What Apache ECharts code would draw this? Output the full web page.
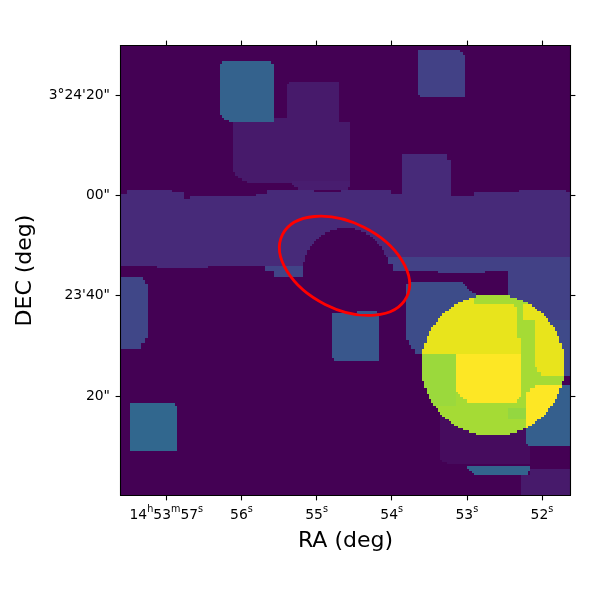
<!DOCTYPE html>
<html><head><meta charset="utf-8">
<style>html,body{margin:0;padding:0;background:#fff}#c{width:600px;height:600px}</style>
<script src="https://cdn.jsdelivr.net/npm/echarts@6/dist/echarts.min.js"></script>
</head><body><div id="c"></div>
<script>
// Image cells: [colStart, colEnd, rowStart, rowEnd, value], half-open, row 0 at the top, later ones on top.
var gridSize = 200;
var faintBlocks = [
  [50,102,34,56,.07],[51,102,56,58,.07],[52,102,58,59,.07],[54,102,59,60,.07],[56,102,60,61,.07],
  [68,74,32,34,.07],[75,97,16,17,.07],[74,97,17,37,.07],[97,100,37,38,.07],[97,102,38,60,.07],
  [76,102,60,62,.08],[77,102,62,63,.08],[79,101,63,64,.08]
];
var bandBlocks = [
  [0,3,66,98,.12],[3,16,64,98,.12],[16,23,64,99,.12],[23,28,65,99,.12],[28,31,68,99,.12],[31,39,67,99,.12],
  [39,60,67,98,.12],[60,65,66,98,.12],[65,86,64,98,.12],[86,98,65,98,.12],[98,120,64,94,.12],[120,125,66,94,.12],
  [125,145,48,94,.12],[145,147,51,94,.12],[147,157,67,94,.12],[157,177,65,94,.12],[177,198,64,94,.12],[198,200,65,94,.12]
];
var stripBlocks = [
  [64,81,98,100,.2],[68,81,100,103,.2],
  [119,200,94,97,.19],[121,200,97,100,.19],[141,162,100,101,.19]
];
var holeFirstRow = 81;
var holeCentreCol = 100;
var holeHalfWidths = [4,7,9,11,12,13,14,15,16,16,17,17,18,18,18,19,19,19,19,19,19,19,19];
var squareBlocks = [
  [45,67,7,8,.31],[44,68,8,31,.31],[45,68,31,32,.31],[46,68,32,33,.31],[48,68,33,34,.31],
  [132,151,2,3,.19],[132,152,3,4,.19],[132,153,4,22,.19],[133,153,22,23,.19],
  [0,10,103,104,.21],[0,11,104,106,.21],[0,12,106,130,.21],[0,11,130,132,.21],[0,9,132,135,.21],
  [4,24,159,160,.33],[4,25,160,180,.33],
  [105,114,118,119,.27],[94,115,119,139,.27],[95,115,139,140,.27]
];
var rightBlocks = [
  [128,152,105,106,.23],[127,153,106,107,.23],[127,154,107,108,.23],[127,155,108,109,.23],[127,156,109,110,.23],
  [127,158,110,111,.23],[127,160,111,131,.23],[128,160,131,133,.23],[129,160,133,135,.23],[131,160,135,137,.23],
  [172,200,100,122,.19],[190,200,122,147,.22],
  [142,182,160,184,.03],[143,182,184,185,.03],[145,182,185,186,.03],
  [180,200,151,177,.3],[181,200,177,178,.3],
  [154,182,187,188,.32],[155,182,188,189,.32],[156,181,189,190,.32],[157,181,190,191,.32],
  [182,200,188,200,.07],[178,200,191,200,.07]
];
// Bright disc: half-widths of its rows going outward from the centre, and what lies inside it.
var discCentreRow = 142;
var discCentreCols = [165,166];
var discHalfWidths = [31,31,31,31,31,31,31,30,30,30,29,29,29,28,28,27,27,26,25,24,24,23,22,21,19,18,17,15,13,10,7];
var discBlocks = [
  [134,197,111,173,.865],[134,149,137,160,.85],
  [134,157,111,137,.965],[157,175,115,116,.965],[157,176,116,130,.965],[157,178,130,137,.965],
  [149,178,137,154,1],[150,178,154,155,1],[151,178,155,156,1],[152,177,156,157,1],[154,176,157,159,1],
  [179,197,115,122,.965],[184,197,122,143,.965],[185,197,143,145,.965],[187,197,145,147,.965],
  [184,197,151,152,1],[182,197,152,154,1],[180,197,154,173,1],
  [172,180,161,166,.84]
];
// Axes
var raRange = [51.62,57.61];
var decRange = [0.17,89.87];
var raTicks = [57,56,55,54,53,52];
var raLabels = ['14h53m57s','56s','55s','54s','53s','52s'];
var decTicks = [80,60,40,20];
var decLabels = ['3°24\'20"','00"','23\'40"','20"'];
var viridis = ['#440154','#471365','#482475','#463480','#414487','#3b528b','#355f8d','#2f6c8e','#2a788e','#25848e','#21918c',
               '#1e9c89','#22a884','#2fb47c','#44bf70','#5ec962','#7ad151','#9bd93c','#bddf26','#dfe318','#fde725'];
// Aperture: RA s, Dec offset ", semi-major ", semi-minor ", tilt degrees
var aperture = [[54.628,45.95,13.85,8.6,26.7]];

var cells = [];
for (var r=0;r<gridSize;r++){cells.push(new Array(gridSize).fill(0));}
function paint(list){
  list.forEach(function(b){
    for(var r=b[2];r<b[3];r++)for(var c=b[0];c<b[1];c++)cells[r][c]=b[4];
  });
}
paint(faintBlocks);paint(bandBlocks);paint(stripBlocks);
holeHalfWidths.forEach(function(h,i){
  for(var c=holeCentreCol-h;c<holeCentreCol+h;c++)cells[holeFirstRow+i][c]=0;
});
paint(squareBlocks);paint(rightBlocks);
var discCells=[];
for(var r2=0;r2<gridSize;r2++){discCells.push(new Array(gridSize).fill(0));}
discBlocks.forEach(function(b){
  for(var r=b[2];r<b[3];r++)for(var c=b[0];c<b[1];c++)discCells[r][c]=b[4];
});
discHalfWidths.forEach(function(h,k){
  [discCentreRow+k,discCentreRow-1-k].forEach(function(r){
    for(var c=discCentreCols[0]-h;c<discCentreCols[1]+h;c++)cells[r][c]=discCells[r][c];
  });
});
// One drawn item per run of equal cells in a row: [colStart, row, colEnd, value]
var runs=[];
for(var y=0;y<gridSize;y++){
  var start=0;
  for(var x=1;x<=gridSize;x++){
    if(x===gridSize||cells[y][x]!==cells[y][start]){runs.push([start,y,x,cells[y][start]]);start=x;}
  }
}
var idx=[];for(var i=0;i<gridSize;i++)idx.push(i);

var font='DejaVu Sans';
function richRa(v){
  var s=raLabels[raTicks.indexOf(v)]||'';
  return s.replace(/(\d+)([hms])/g,'{n|$1}{u|$2}');
}
var rich={n:{fontFamily:font,fontSize:13.9,color:'#000',lineHeight:18,verticalAlign:'bottom'},
          u:{fontFamily:font,fontSize:9.7,color:'#000',lineHeight:18,verticalAlign:'top',padding:[0,0,6,0]}};
var line={show:true,onZero:false,lineStyle:{color:'#000',width:1.1}};
var tick={show:true,length:4.9,inside:false,lineStyle:{color:'#000',width:1.1}};
function xVal(pos,labelled,name){
  return {type:'value',gridIndex:0,position:pos,inverse:true,min:raRange[0],max:raRange[1],z:5,
    axisLine:line,splitLine:{show:false},
    axisTick:Object.assign({},tick,{customValues:raTicks}),
    axisLabel:labelled?{show:true,customValues:raTicks,margin:9,formatter:richRa,rich:rich,hideOverlap:false}:{show:false},
    name:name||'',nameLocation:'middle',nameGap:35,nameTextStyle:{fontFamily:font,fontSize:22,color:'#000'}};
}
function yVal(pos,labelled,name){
  return {type:'value',gridIndex:0,position:pos,min:decRange[0],max:decRange[1],z:5,
    axisLine:line,splitLine:{show:false},
    axisTick:Object.assign({},tick,{customValues:decTicks}),
    axisLabel:labelled?{show:true,customValues:decTicks,margin:10.5,fontFamily:font,fontSize:13.9,color:'#000',
      formatter:function(v){return decLabels[decTicks.indexOf(v)]||'';}}:{show:false},
    name:name||'',nameLocation:'middle',nameGap:84,nameTextStyle:{fontFamily:font,fontSize:22,color:'#000'}};
}
var chart=echarts.init(document.getElementById('c'),null,{renderer:'canvas'});
chart.setOption({
  animation:false,
  backgroundColor:'#fff',
  grid:{left:120.5,top:45.5,width:450,height:450,containLabel:false},
  xAxis:[
    {type:'category',data:idx,show:false,boundaryGap:true},
    xVal('bottom',true,'RA (deg)'),
    xVal('top',false)
  ],
  yAxis:[
    {type:'category',data:idx,show:false,inverse:true,boundaryGap:true},
    yVal('left',true,'DEC (deg)'),
    yVal('right',false)
  ],
  visualMap:{show:false,type:'continuous',seriesIndex:0,dimension:3,min:0,max:1,inRange:{color:viridis}},
  series:[
    {type:'custom',xAxisIndex:0,yAxisIndex:0,data:runs,progressive:0,silent:true,clip:true,
     encode:{x:0,y:1},
     renderItem:function(params,api){
       var a=api.coord([api.value(0),api.value(1)]);
       var b=api.coord([api.value(2)-1,api.value(1)]);
       var w=api.size([1,1]);
       var x0=Math.round(a[0]-w[0]/2),x1=Math.round(b[0]+w[0]/2);
       var y0=Math.round(a[1]-w[1]/2),y1=Math.round(a[1]+w[1]/2);
       return {type:'rect',shape:{x:x0,y:y0,width:x1-x0,height:y1-y0},style:{fill:api.visual('color')}};
     }},
    {type:'custom',xAxisIndex:1,yAxisIndex:1,data:aperture,z:4,clip:false,silent:true,
     encode:{x:0,y:1},
     renderItem:function(params,api){
       var p=api.coord([api.value(0),api.value(1)]);
       var s=api.size([0,1])[1];
       return {type:'ellipse',x:p[0],y:p[1],rotation:-api.value(4)*Math.PI/180,
         shape:{cx:0,cy:0,rx:api.value(2)*s,ry:api.value(3)*s},
         style:{fill:'none',stroke:'#ff0000',lineWidth:2.8}};
     }}
  ]
});
</script></body></html>
